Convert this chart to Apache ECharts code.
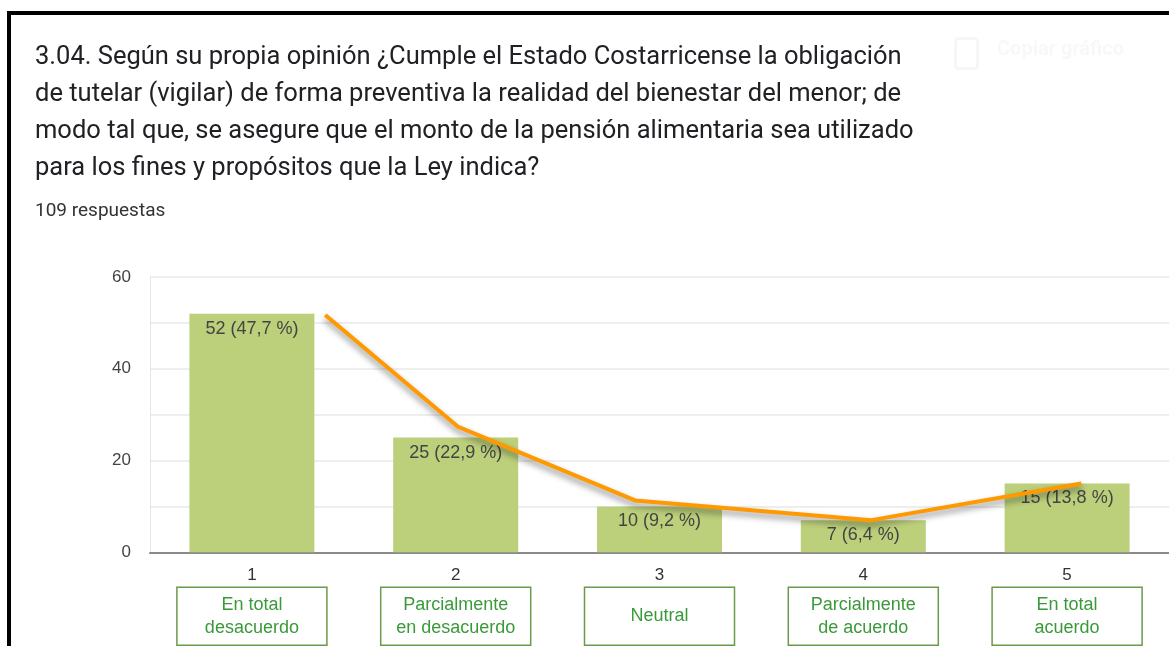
<!DOCTYPE html>
<html>
<head>
<meta charset="utf-8">
<script src="https://cdn.jsdelivr.net/npm/echarts@6/dist/echarts.min.js"></script>
<style>
  html, body { margin: 0; padding: 0; background: #fff; }
  #chart { width: 1169px; height: 646px; }
</style>
</head>
<body>
<div id="chart"></div>
<script>
var categories = ['1', '2', '3', '4', '5'];
var answerLabels = ['En total\ndesacuerdo', 'Parcialmente\nen desacuerdo', 'Neutral', 'Parcialmente\nde acuerdo', 'En total\nacuerdo'];
var counts = [52, 25, 10, 7, 15];
var percents = ['47,7', '22,9', '9,2', '6,4', '13,8'];
// hand drawn orange trend (x in category units)
var trendX = [0.36, 1.01, 1.88, 3.04, 4.07];
var trendY = [51.7, 27.4, 11.3, 7.0, 15.0];
var yTicks = [0, 20, 40, 60];

var chart = echarts.init(document.getElementById('chart'));

var trendData = [];
for (var i = 0; i < trendX.length; i++) {
    trendData.push([trendX[i], trendY[i]]);
}

var option = {
    backgroundColor: '#fff',
    animation: false,
    title: {
        text: '3.04. Según su propia opinión ¿Cumple el Estado Costarricense la obligación\n' +
              'de tutelar (vigilar) de forma preventiva la realidad del bienestar del menor; de\n' +
              'modo tal que, se asegure que el monto de la pensión alimentaria sea utilizado\n' +
              'para los fines y propósitos que la Ley indica?',
        subtext: '109 respuestas',
        left: 30,
        top: 34,
        itemGap: 15,
        textStyle: {
            fontFamily: 'Roboto',
            fontWeight: 'normal',
            fontSize: 25.5,
            lineHeight: 37,
            color: '#202124'
        },
        subtextStyle: {
            fontFamily: 'Roboto',
            fontSize: 19,
            color: '#333'
        }
    },
    graphic: [
        { type: 'rect', left: 7, top: 11, shape: { width: 1162, height: 4 }, style: { fill: '#000' } },
        { type: 'rect', left: 7, top: 11, shape: { width: 4, height: 635 }, style: { fill: '#000' } },
        { type: 'rect', left: 953, top: 36, shape: { width: 22, height: 30, r: 3 }, style: { fill: 'none', stroke: '#f6f6f6', lineWidth: 3 } },
        { type: 'text', left: 997, top: 40, style: { text: 'Copiar gráfico', fill: '#f8f8f8', font: 'bold 20px Roboto' } }
    ],
    grid: {
        left: 150,
        right: -2,
        top: 277,
        bottom: 93
    },
    xAxis: [
        {
            type: 'category',
            data: categories,
            position: 'bottom',
            axisLine: { lineStyle: { color: '#8a8a8a', width: 2 } },
            axisTick: { show: false },
            axisLabel: {
                margin: 15,
                fontFamily: 'Arial',
                fontSize: 17,
                color: '#333'
            }
        },
        {
            type: 'category',
            data: answerLabels,
            position: 'bottom',
            axisLine: { show: false },
            axisTick: { show: false },
            axisLabel: {
                margin: 35,
                interval: 0,
                width: 150,
                align: 'center',
                borderColor: '#6a9a4a',
                borderWidth: 1.5,
                padding: [6, 0, 6, 0],
                fontFamily: 'Arial',
                fontSize: 18,
                lineHeight: 23,
                color: '#3a9a3a',
                formatter: function (v) {
                    if (v.indexOf('\n') < 0) {
                        return '{s|' + v + '}';
                    }
                    return v;
                },
                rich: {
                    s: { lineHeight: 46, fontFamily: 'Arial', fontSize: 18, color: '#3a9a3a' }
                }
            }
        },
        {
            type: 'value',
            min: -0.5,
            max: 4.5,
            show: false
        }
    ],
    yAxis: {
        type: 'value',
        min: 0,
        max: 60,
        interval: 10,
        axisLine: { show: true, onZero: false, lineStyle: { color: '#e6e6e6' } },
        axisTick: { show: false },
        splitLine: { lineStyle: { color: '#eeeeee', width: 2 } },
        axisLabel: {
            margin: 19,
            fontFamily: 'Arial',
            fontSize: 17,
            color: '#444',
            formatter: function (v) {
                return yTicks.indexOf(v) >= 0 ? String(v) : '';
            }
        }
    },
    series: [
        {
            type: 'bar',
            xAxisIndex: 0,
            barWidth: 125,
            itemStyle: { color: '#bccf7b' },
            label: {
                show: true,
                position: 'insideTop',
                distance: 6,
                fontFamily: 'Arial',
                fontSize: 18,
                color: '#444',
                formatter: function (p) {
                    return p.value + ' (' + percents[p.dataIndex] + ' %)';
                }
            },
            data: counts
        },
        {
            type: 'line',
            xAxisIndex: 2,
            symbol: 'none',
            lineStyle: {
                color: '#ff9900',
                width: 4,
                shadowColor: 'rgba(0,0,0,0.45)',
                shadowBlur: 6,
                shadowOffsetY: 4
            },
            data: trendData
        }
    ]
};

chart.setOption(option);
</script>
</body>
</html>
